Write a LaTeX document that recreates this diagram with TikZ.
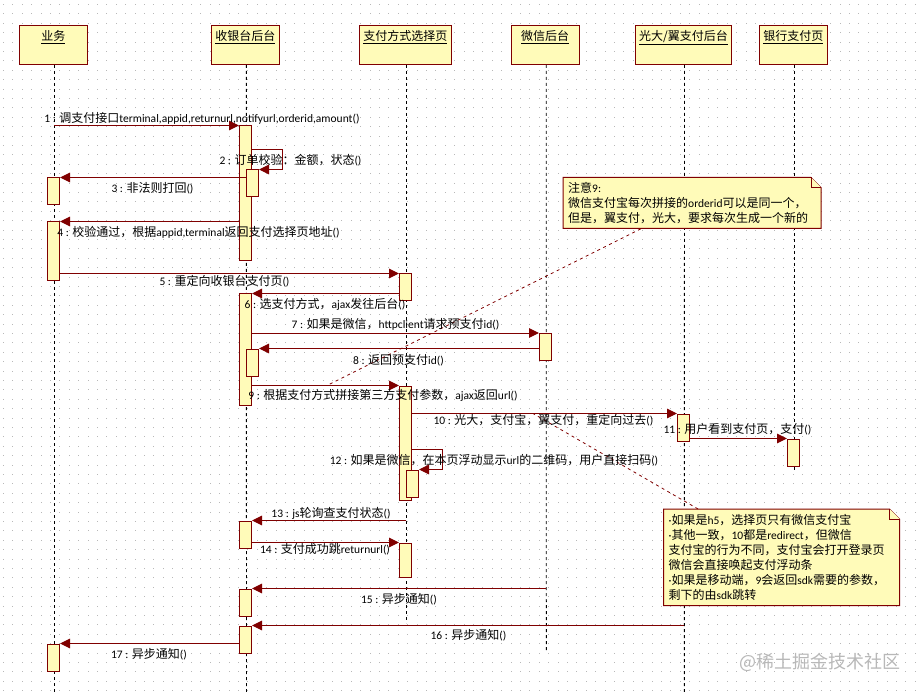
\documentclass[tikz,border=0pt]{standalone}
\usepackage{fontspec}
\setmainfont{Noto Sans CJK SC}
\newfontfamily\latinfont{Carlito}
\newcommand{\en}[1]{{\latinfont\fontsize{11.5}{14}\selectfont #1}}
\usepackage{tikz}
\usetikzlibrary{calc,positioning,arrows.meta}
\definecolor{umlline}{HTML}{800000}
\definecolor{umlfill}{HTML}{FFFBB9}
\tikzset{
  headbox/.style={draw=umlline, fill=umlfill, line width=1pt, inner ysep=5pt, inner xsep=0pt, minimum height=39, text height=10, text depth=19},
  lifeline/.style={black, line width=0.9pt, dash pattern=on 3pt off 3pt},
  barbox/.style={draw=umlline, fill=umlfill, line width=1pt, minimum width=12, inner sep=0pt, anchor=north},
  msg/.style={draw=umlline, line width=1pt, -{Triangle[length=10pt,width=9.5pt,fill=umlline]}},
  msgtext/.style={inner sep=0pt, font=\fontsize{12}{14}\selectfont},
  noteshape/.style={draw=umlline, fill=umlfill, line width=1pt},
  notetext/.style={inner sep=0pt, inner xsep=5pt, align=left, font=\fontsize{12}{15}\selectfont},
  notelink/.style={umlline, line width=0.8pt, dash pattern=on 3pt off 3.5pt}
}
\begin{document}
\begin{tikzpicture}[x=1pt, y=-1pt, font=\fontsize{12}{14}\selectfont]
\useasboundingbox (0,0) rectangle (920,692);
\fill[white] (0,0) rectangle (920,692);
% Dotted canvas
\foreach \i in {0,...,97} {
  \foreach \j in {0,...,73} {
    \fill[black!28] ({3+9.4*\i},{4+9.4*\j}) rectangle ++(1,1);
  }
}
% Objects
\foreach \n/\x/\w/\t in {H1/53.3/68/业务, H2/245.3/68/收银台后台, H3/405.3/92/支付方式选择页, H4/545.2/68/微信后台, H5/683.5/96/{光大/翼支付后台}, H6/793.3/68/银行支付页} {
  \node[headbox, minimum width=\w] (\n) at (\x,45) {\underline{\t}};
}
% Lifelines
\coordinate (E1) at (54.3,692);
\coordinate (E2) at (246.5,692);
\coordinate (E3) at (406.3,623);
\coordinate (E4) at (546.3,652);
\coordinate (E5) at (684.3,692);
\coordinate (E6) at (794.3,470);
\foreach \i in {1,...,6} {
  \draw[lifeline] ([xshift=1]H\i.south) -- (E\i);
}
% Activation bars
\foreach \n/\x/\y/\h in {
  A1/53.5/177.5/27, A2/53.5/221.5/59, A3/53.5/643.5/27,
  B1/245.5/125.5/135, B2/252.5/169.5/27, B3/245.5/293.5/111, B4/252.5/348.5/27,
  B5/245.5/520.5/27, B6/245.5/588.5/27, B7/245.5/625.5/27,
  C1/405.5/273.5/27, C2/405.5/385.5/114, C3/412.5/469.5/27, C4/405.5/542.5/34,
  D1/545.5/333/27, F1/683.5/413.5/27, G1/793.5/438.5/27} {
  \node[barbox, minimum height=\h] (\n) at (\x,\y) {};
}
% Note backgrounds
\draw[noteshape] (563,177.5) -- (811,177.5) -- (821,187.5) -- (821,228.5) -- (563,228.5) -- cycle;
\draw[noteshape] (811,177.5) -- (811,187.5) -- (821,187.5);
\draw[noteshape] (663.5,509) -- (889.5,509) -- (899.5,519) -- (899.5,605.5) -- (663.5,605.5) -- cycle;
\draw[noteshape] (889.5,509) -- (889.5,519) -- (899.5,519);
\node[notetext, text width=248, minimum height=51, anchor=north west] (N1) at (563,177.5) {注意\en{9:}\\微信支付宝每次拼接的\en{orderid}可以是同一个，\\但是，翼支付，光大，要求每次生成一个新的};
\node[notetext, text width=226, minimum height=96.5, anchor=north west] (N2) at (663.5,509) {\en{·}如果是\en{h5}，选择页只有微信支付宝\\\en{·}其他一致，\en{10}都是\en{redirect}，但微信\\支付宝的行为不同，支付宝会打开登录页\\微信会直接唤起支付浮动条\\\en{·}如果是移动端，\en{9}会返回\en{sdk}需要的参数，\\剩下的由\en{sdk}跳转};
% Messages
\coordinate (S1) at (54.3,125.5);
\draw[msg] (S1) -- (B1.north west);
\draw[msg] (B1.east |- 0,149.5) -- (282.5,149.5) -- (282.5,169.5) -- (B2.north east);
\draw[msg] (B2.west |- A1.north) -- (A1.north east);
\draw[msg] (B1.west |- A2.north) -- (A2.north east);
\draw[msg] (A2.east |- C1.north) -- (C1.north west);
\draw[msg] (C1.west |- B3.north) -- (B3.north east);
\draw[msg] (B3.east |- D1.north) -- (D1.north west);
\draw[msg] (D1.west |- B4.north) -- (B4.north east);
\draw[msg] (B3.east |- C2.north) -- (C2.north west);
\draw[msg] (C2.east |- F1.north) -- (F1.north west);
\draw[msg] (F1.east |- G1.north) -- (G1.north west);
\draw[msg] (C2.east |- 0,449.5) -- (442.5,449.5) -- (442.5,469.5) -- (C3.north east);
\draw[msg] (E3 |- B5.north) -- (B5.north east);
\draw[msg] (B5.east |- C4.north) -- (C4.north west);
\draw[msg] (E4 |- B6.north) -- (B6.north east);
\draw[msg] (E5 |- B7.north) -- (B7.north east);
\draw[msg] (B7.west |- A3.north) -- (A3.north east);
% Note links
\coordinate (T9) at (327,385.5);
\coordinate (T10) at (533,413.5);
\draw[notelink] (N1) -- (T9);
\draw[notelink] (N2) -- (T10);
% Message labels
\node[msgtext] (M1) at (202,118) {\en{1 : }调支付接口\en{terminal,appid,returnurl,notifyurl,orderid,amount()}};
\node[msgtext] (M2) at (290.5,160) {\en{2 : }订单校验：金额，状态\en{()}};
\node[msgtext] (M3) at (152.5,188) {\en{3 : }非法则打回\en{()}};
\node[msgtext] (M4) at (198.5,232) {\en{4 : }校验通过，根据\en{appid,terminal}返回支付选择页地址\en{()}};
\node[msgtext] (M5) at (224.5,281) {\en{5 : }重定向收银台支付页\en{()}};
\node[msgtext] (M6) at (325,304) {\en{6 : }选支付方式，\en{ajax}发往后台\en{()}};
\node[msgtext] (M7) at (395.5,324) {\en{7 : }如果是微信，\en{httpclient}请求预支付\en{id()}};
\node[msgtext] (M8) at (398.5,360) {\en{8 : }返回预支付\en{id()}};
\node[msgtext] (M9) at (383,395) {\en{9 : }根据支付方式拼接第三方支付参数，\en{ajax}返回\en{url()}};
\node[msgtext] (M10) at (543.5,420) {\en{10 : }光大，支付宝，翼支付，重定向过去\en{()}};
\node[msgtext] (M11) at (737.5,429) {\en{11 : }用户看到支付页，支付\en{()}};
\node[msgtext] (M12) at (494,460) {\en{12 : }如果是微信，在本页浮动显示\en{url}的二维码，用户直接扫码\en{()}};
\node[msgtext] (M13) at (331,513.5) {\en{13 : js}轮询查支付状态\en{()}};
\node[msgtext] (M14) at (325,549) {\en{14 : }支付成功跳\en{returnurl()}};
\node[msgtext] (M15) at (399,599) {\en{15 : }异步通知\en{()}};
\node[msgtext] (M16) at (468.5,635) {\en{16 : }异步通知\en{()}};
\node[msgtext] (M17) at (149,654) {\en{17 : }异步通知\en{()}};
% Watermark
\node[text=black!28, inner sep=0pt, font=\fontsize{18}{20}\selectfont] (WM) at (820,662) {@稀土掘金技术社区};
\end{tikzpicture}
\end{document}
